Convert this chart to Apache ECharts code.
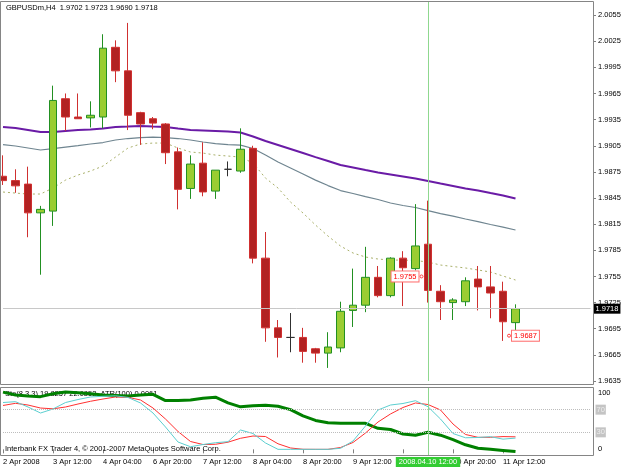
<!DOCTYPE html>
<html>
<head>
<meta charset="utf-8" />
<title>GBPUSDm,H4</title>
<script src="https://cdn.jsdelivr.net/npm/echarts@6/dist/echarts.min.js"></script>
<style>
  html, body { margin: 0; padding: 0; background: #fff; }
  #main { width: 625px; height: 469px; }
</style>
</head>
<body>
<div id="main"></div>
<script>
  // H4 bar times
  var times = ['2 Apr 2008', '3 Apr 00:00', '3 Apr 04:00', '3 Apr 08:00', '3 Apr 12:00', '3 Apr 16:00',
    '3 Apr 20:00', '4 Apr 00:00', '4 Apr 04:00', '4 Apr 08:00', '4 Apr 12:00', '4 Apr 16:00',
    '6 Apr 20:00', '7 Apr 00:00', '7 Apr 04:00', '7 Apr 08:00', '7 Apr 12:00', '7 Apr 16:00',
    '7 Apr 20:00', '8 Apr 00:00', '8 Apr 04:00', '8 Apr 08:00', '8 Apr 12:00', '8 Apr 16:00',
    '8 Apr 20:00', '9 Apr 00:00', '9 Apr 04:00', '9 Apr 08:00', '9 Apr 12:00', '9 Apr 16:00',
    '9 Apr 20:00', '10 Apr 00:00', '10 Apr 04:00', '10 Apr 08:00', '10 Apr 12:00', '10 Apr 16:00',
    '10 Apr 20:00', '11 Apr 00:00', '11 Apr 04:00', '11 Apr 08:00', '11 Apr 12:00', '11 Apr 16:00'];
  var padSlots = 6; // empty space right of the last bar

  var opens  = [1.9870, 1.9865, 1.9861, 1.9828, 1.9830, 1.9959, 1.9938, 1.9937, 1.9938, 2.0018,
                1.9991, 1.9943, 1.9936, 1.9930, 1.9898, 1.9856, 1.9885, 1.9853, 1.9878, 1.9876,
                1.9902, 1.9776, 1.9696, 1.9685, 1.9685, 1.9672, 1.9667, 1.9673, 1.9716, 1.9722,
                1.9754, 1.9733, 1.9776, 1.9764, 1.9792, 1.9738, 1.9725, 1.9726, 1.9752, 1.9743,
                1.9738, 1.9702];
  var highs  = [1.9894, 1.9878, 1.9881, 1.9836, 1.9974, 1.9965, 1.9965, 1.9956, 2.0033, 2.0026,
                2.0046, 1.9944, 1.9938, 1.9931, 1.9903, 1.9894, 1.9909, 1.9877, 1.9887, 1.9925,
                1.9905, 1.9806, 1.9705, 1.9713, 1.9696, 1.9673, 1.9691, 1.9726, 1.9764, 1.9789,
                1.9767, 1.9777, 1.9784, 1.9838, 1.9842, 1.9745, 1.9730, 1.9754, 1.9767, 1.9767,
                1.9749, 1.9723];
  var lows   = [1.9860, 1.9851, 1.9800, 1.9757, 1.9813, 1.9922, 1.9936, 1.9926, 1.9925, 1.9978,
                1.9923, 1.9906, 1.9924, 1.9884, 1.9832, 1.9844, 1.9847, 1.9844, 1.9870, 1.9874,
                1.9770, 1.9680, 1.9662, 1.9668, 1.9656, 1.9656, 1.9650, 1.9668, 1.9697, 1.9714,
                1.9731, 1.9731, 1.9721, 1.9762, 1.9725, 1.9705, 1.9705, 1.9721, 1.9716, 1.9707,
                1.9681, 1.9690];
  var closes = [1.9865, 1.9859, 1.9828, 1.9832, 1.9957, 1.9938, 1.9936, 1.9940, 2.0017, 1.9991,
                1.9940, 1.9930, 1.9931, 1.9897, 1.9855, 1.9884, 1.9852, 1.9877, 1.9878, 1.9901,
                1.9776, 1.9696, 1.9685, 1.9685, 1.9669, 1.9667, 1.9674, 1.9715, 1.9722, 1.9754,
                1.9733, 1.9776, 1.9765, 1.9790, 1.9739, 1.9726, 1.9728, 1.9750, 1.9743, 1.9736,
                1.9703, 1.9718];

  // moving averages
  var maSlow = [1.99265, 1.99253, 1.99230, 1.99207, 1.99207, 1.99219, 1.99230, 1.99236, 1.99247, 1.99265,
                1.99270, 1.99276, 1.99270, 1.99265, 1.99247, 1.99230, 1.99225, 1.99219, 1.99213, 1.99202,
                1.99156, 1.99104, 1.99058, 1.99012, 1.98966, 1.98920, 1.98875, 1.98829, 1.98800, 1.98771,
                1.98743, 1.98720, 1.98697, 1.98674, 1.98645, 1.98616, 1.98588, 1.98559, 1.98536, 1.98507,
                1.98479, 1.98444];
  var maMid  = [1.99064, 1.99047, 1.99024, 1.99001, 1.99018, 1.99035, 1.99052, 1.99070, 1.99087, 1.99116,
                1.99133, 1.99144, 1.99150, 1.99144, 1.99133, 1.99116, 1.99093, 1.99075, 1.99064, 1.99058,
                1.99018, 1.98943, 1.98863, 1.98794, 1.98725, 1.98656, 1.98593, 1.98536, 1.98502, 1.98467,
                1.98433, 1.98393, 1.98364, 1.98341, 1.98306, 1.98272, 1.98243, 1.98209, 1.98180, 1.98146,
                1.98117, 1.98083];
  var maFast = [1.98519, 1.98507, 1.98496, 1.98496, 1.98565, 1.98656, 1.98714, 1.98760, 1.98817, 1.98920,
                1.99024, 1.99070, 1.99081, 1.99081, 1.99024, 1.98978, 1.98966, 1.98943, 1.98932, 1.98920,
                1.98852, 1.98679, 1.98565, 1.98404, 1.98278, 1.98140, 1.98014, 1.97899, 1.97819, 1.97773,
                1.97750, 1.97738, 1.97738, 1.97733, 1.97715, 1.97681, 1.97664, 1.97647, 1.97624, 1.97601,
                1.97555, 1.97509];

  // Stochastic(8,3,3) and ATR(100)
  var stochMain   = [82.6, 84.1, 74.7, 64.1, 71.2, 82.6, 87.9, 92.4, 93.6, 94.5,
                     91.5, 81.8, 64.1, 39.4, 12.9, 4.6, 8.5, 11.7, 13.5, 34.1,
                     27.9, 11.2, 0, 0, 0, 0, 0, 1.8, 14.7, 41.2,
                     69.4, 78.2, 80.9, 85.8, 75.2, 53.5, 27.9, 20.4, 20.9, 22.3,
                     18.0, 19.83];
  var stochSignal = [77.4, 81.2, 78.2, 72.9, 71.5, 74.7, 80.0, 84.8, 88.8, 92.4,
                     91.8, 87.1, 72.9, 53.5, 31.5, 13.8, 8.5, 8.9, 12.6, 19.5,
                     23.5, 22.6, 9.8, 2.4, 0.1, 0, 0, 3.2, 12.1, 28.8,
                     48.2, 62.4, 73.8, 81.8, 79.1, 69.4, 44.7, 26.2, 21.2, 21.2,
                     22.5, 22.09];
  var atr = [0.00711, 0.00706, 0.00704, 0.00703, 0.00708, 0.00711, 0.00710, 0.00708, 0.00706, 0.00705,
             0.00704, 0.00706, 0.00707, 0.00696, 0.00696, 0.00697, 0.00700, 0.00702, 0.00692, 0.00685,
             0.00687, 0.00688, 0.00686, 0.00680, 0.00669, 0.00661, 0.00657, 0.00656, 0.00656, 0.00656,
             0.00647, 0.00645, 0.00637, 0.00635, 0.00640, 0.00635, 0.00627, 0.00618, 0.00612, 0.00610,
             0.00608, 0.00606];
  var stochLevels = [70, 30];

  var lastPrice = 1.9718;
  var crossIndex = 34;
  var crossLabel = '2008.04.10 12:00';
  var labelTimes = ['10 Apr 08:00', '11 Apr 12:00'];
  var labelPrices = [1.9755, 1.9687];

  var cats = times.slice();
  for (var k = 0; k < padSlots; k++) cats.push('pad' + k);

  var candles = opens.map(function (o, i) {
    return [o, closes[i], lows[i], highs[i]];
  });

  var FONT = 'Liberation Sans';
  var txt = { fontFamily: FONT, fontSize: 7.5, color: '#000', fontWeight: 'normal' };
  var crossColor = '#8fd88f';

  var myChart = echarts.init(document.getElementById('main'));
  var option = {
    animation: false,
    backgroundColor: '#ffffff',
    textStyle: { fontFamily: FONT },
    title: [
      { text: 'GBPUSDm,H4  1.9702 1.9723 1.9690 1.9718', left: 6, top: 4, padding: 0, textStyle: txt },
      { text: 'Sto(8,3,3) 19.8257 22.0852  ATR(100) 0.0061', left: 5, top: 390, padding: 0, z: 1, textStyle: txt },
      { text: 'Interbank FX Trader 4, \u00a9 2001-2007 MetaQuotes Software Corp.', left: 5, top: 445, padding: 0, z: 1, textStyle: txt }
    ],
    grid: [
      { left: 3, right: 34.5, top: 2, height: 379 },
      { left: 3, right: 34.5, top: 387, height: 68 }
    ],
    xAxis: [
      { type: 'category', gridIndex: 0, data: cats, boundaryGap: false, show: false },
      {
        type: 'category', gridIndex: 1, data: cats, boundaryGap: false,
        axisLine: { show: false },
        axisTick: {
          show: true, length: 4, lineStyle: { color: '#808080' },
          interval: function (i) { return i % 4 === 0 && i < times.length; }
        },
        axisLabel: {
          interval: 3, align: 'left', margin: 3, fontSize: 7.5, color: '#000', fontFamily: FONT,
          formatter: function (v, i) { return i < times.length ? v : ''; }
        },
        splitLine: { show: false }
      }
    ],
    yAxis: [
      {
        type: 'value', gridIndex: 0, position: 'right', offset: 2.5,
        min: 1.9635, max: 2.0070, interval: 0.003,
        splitLine: { show: false }, axisLine: { show: false },
        axisTick: { show: true, length: 3, lineStyle: { color: '#808080' } },
        axisLabel: {
          margin: 5, fontSize: 7.5, color: '#000', fontFamily: FONT, showMaxLabel: false,
          formatter: function (v) { return v.toFixed(4); }
        }
      },
      {
        type: 'value', gridIndex: 1, position: 'right', offset: 2.5,
        min: -10, max: 110, interval: 10,
        splitLine: { show: false }, axisLine: { show: false }, axisTick: { show: false },
        axisLabel: {
          margin: 5, fontSize: 7.5, color: '#000', fontFamily: FONT,
          formatter: function (v) { var r = Math.round(v); return (r === 0 || r === 100) ? String(r) : ''; }
        }
      },
      { type: 'value', gridIndex: 1, min: 0.0060, max: 0.0072, show: false }
    ],
    series: [
      {
        name: 'MA slow', type: 'line', xAxisIndex: 0, yAxisIndex: 0, data: maSlow,
        symbol: 'none', z: 2, lineStyle: { color: '#6a1ba6', width: 2 },
        markLine: {
          symbol: ['none', 'none'], silent: true, animation: false, precision: 4,
          data: [
            {
              yAxis: lastPrice,
              lineStyle: { color: '#c8c8c8', width: 1, type: 'solid' },
              label: {
                show: true, position: 'end', distance: 3, formatter: lastPrice.toFixed(4),
                backgroundColor: '#000', color: '#fff', padding: [1, 2], fontSize: 7.5, fontFamily: FONT
              }
            },
            {
              xAxis: times[crossIndex],
              lineStyle: { color: crossColor, width: 1, type: 'solid' },
              label: { show: false }
            }
          ]
        }
      },
      {
        name: 'MA mid', type: 'line', xAxisIndex: 0, yAxisIndex: 0, data: maMid,
        symbol: 'none', z: 2, lineStyle: { color: '#6f8590', width: 1.2 }
      },
      {
        name: 'MA fast', type: 'line', xAxisIndex: 0, yAxisIndex: 0, data: maFast,
        symbol: 'none', z: 2, lineStyle: { color: '#a9b06a', width: 1, type: [2, 3] }
      },
      {
        name: 'GBPUSDm', type: 'candlestick', xAxisIndex: 0, yAxisIndex: 0, data: candles,
        barWidth: 8, clip: false, z: 3,
        itemStyle: {
          color: '#9acd32', color0: '#b22222',
          borderColor: '#229022', borderColor0: '#d03030', borderColorDoji: '#303030', borderWidth: 1
        },
        markPoint: {
          silent: true, animation: false,
          data: labelTimes.map(function (t, i) {
            var left = i === 0;
            return {
              coord: [t, labelPrices[i]],
              symbol: 'circle', symbolSize: 3, symbolOffset: [6, 0],
              itemStyle: { color: '#fff', borderColor: '#ff4040', borderWidth: 1 },
              label: {
                show: true, position: left ? 'left' : 'right', distance: 1,
                formatter: labelPrices[i].toFixed(4),
                color: '#ff0000', backgroundColor: '#fff', borderColor: '#ff7070', borderWidth: 1,
                padding: [1, 2], fontSize: 7.5, fontFamily: FONT
              }
            };
          })
        }
      },
      {
        name: 'ATR(100)', type: 'line', xAxisIndex: 1, yAxisIndex: 2, data: atr,
        symbol: 'none', z: 2, lineStyle: { color: '#008000', width: 3 }
      },
      {
        name: 'Sto signal', type: 'line', xAxisIndex: 1, yAxisIndex: 1, data: stochSignal,
        symbol: 'none', z: 3, lineStyle: { color: '#ff3030', width: 1 }
      },
      {
        name: 'Sto main', type: 'line', xAxisIndex: 1, yAxisIndex: 1, data: stochMain,
        symbol: 'none', z: 3, lineStyle: { color: '#5ccfd0', width: 1 },
        markLine: {
          symbol: ['none', 'none'], silent: true, animation: false,
          data: stochLevels.map(function (lv) {
            return {
              yAxis: lv,
              lineStyle: { color: '#bdbdbd', width: 1, type: 'dotted' },
              label: {
                show: true, position: 'end', distance: 5, formatter: String(lv),
                backgroundColor: '#c4c4c4', color: '#ececec', padding: [1, 1], fontSize: 7.5, fontFamily: FONT
              }
            };
          }).concat([{
            xAxis: times[crossIndex],
            lineStyle: { color: crossColor, width: 1, type: 'solid' },
            label: {
              show: true, position: 'start', distance: 2, formatter: crossLabel,
              backgroundColor: '#33cc33', color: '#fff', padding: [1, 3], fontSize: 7.5, fontFamily: FONT
            }
          }])
        }
      }
    ],
    graphic: [
      {
        type: 'rect', silent: true, z: 100,
        shape: { x: 0.5, y: 1.5, width: 593, height: 383 },
        style: { fill: 'none', stroke: '#858585', lineWidth: 1 }
      },
      {
        type: 'rect', silent: true, z: 100,
        shape: { x: 0.5, y: 387.5, width: 593, height: 68 },
        style: { fill: 'none', stroke: '#858585', lineWidth: 1 }
      }
    ]
  };
  myChart.setOption(option);
</script>
</body>
</html>
